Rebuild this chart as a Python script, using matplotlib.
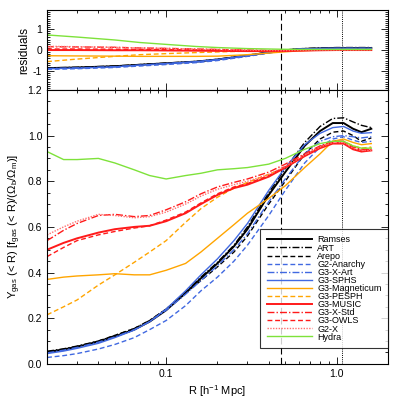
import numpy as np
import matplotlib
matplotlib.use("Agg")
import matplotlib.pyplot as plt
from matplotlib.ticker import MultipleLocator, LogLocator, FixedLocator, FixedFormatter, NullFormatter

plt.rcParams['font.family'] = ['Liberation Sans', 'DejaVu Sans']
plt.rcParams['mathtext.default'] = 'regular'
plt.rcParams['axes.unicode_minus'] = False

# radius grid [h^-1 Mpc]
R = [0.02, 0.025, 0.03, 0.04, 0.05, 0.065, 0.08, 0.1, 0.13, 0.16, 0.2, 0.25,
     0.3, 0.4, 0.5, 0.65, 0.8, 0.95, 1.1, 1.25, 1.4, 1.6]

ramses = [0.052, 0.063, 0.075, 0.097, 0.12, 0.15, 0.185, 0.235, 0.31, 0.375, 0.44, 0.515,
          0.59, 0.74, 0.84, 0.955, 1.02, 1.055, 1.055, 1.03, 1.015, 1.03]
art = [0.055, 0.066, 0.078, 0.10, 0.124, 0.155, 0.19, 0.24, 0.315, 0.38, 0.445, 0.52,
       0.6, 0.75, 0.855, 0.97, 1.04, 1.075, 1.078, 1.06, 1.045, 1.035]
arepo = [0.05, 0.062, 0.075, 0.1, 0.125, 0.155, 0.19, 0.24, 0.31, 0.365, 0.425, 0.49,
         0.56, 0.7, 0.80, 0.92, 0.985, 1.015, 1.02, 1.0, 0.975, 0.99]
anarchy = [0.028, 0.036, 0.045, 0.065, 0.085, 0.115, 0.15, 0.19, 0.255, 0.32, 0.38, 0.45,
           0.52, 0.65, 0.76, 0.88, 0.95, 0.985, 0.995, 0.98, 0.97, 0.975]
xart = [0.048, 0.06, 0.072, 0.095, 0.118, 0.15, 0.185, 0.235, 0.305, 0.365, 0.43, 0.5,
        0.57, 0.71, 0.81, 0.92, 0.975, 0.995, 1.0, 0.995, 0.99, 0.995]
sphs = [0.045, 0.056, 0.068, 0.09, 0.115, 0.148, 0.185, 0.24, 0.32, 0.39, 0.46, 0.54,
        0.615, 0.76, 0.86, 0.96, 1.01, 1.035, 1.04, 1.02, 1.01, 1.013]
magneticum = [0.37, 0.38, 0.385, 0.39, 0.395, 0.39, 0.39, 0.41, 0.44, 0.49, 0.55, 0.61,
              0.66, 0.725, 0.78, 0.86, 0.92, 0.975, 0.985, 0.97, 0.96, 0.965]
pesph = [0.215, 0.25, 0.28, 0.345, 0.39, 0.445, 0.49, 0.54, 0.62, 0.68, 0.73, 0.77,
         0.795, 0.83, 0.86, 0.91, 0.95, 0.975, 0.975, 0.955, 0.945, 0.95]
music = [0.50, 0.53, 0.55, 0.575, 0.59, 0.60, 0.605, 0.625, 0.66, 0.70, 0.74, 0.77,
         0.785, 0.82, 0.86, 0.91, 0.945, 0.965, 0.965, 0.94, 0.93, 0.935]
xstd = [0.54, 0.585, 0.615, 0.65, 0.655, 0.645, 0.65, 0.675, 0.71, 0.745, 0.775, 0.795,
        0.81, 0.84, 0.875, 0.92, 0.955, 0.975, 0.975, 0.95, 0.94, 0.94]
owls = [0.47, 0.51, 0.54, 0.565, 0.58, 0.595, 0.605, 0.63, 0.665, 0.705, 0.745, 0.775,
        0.79, 0.825, 0.865, 0.915, 0.95, 0.97, 0.97, 0.945, 0.935, 0.94]
g2x = [0.565, 0.60, 0.625, 0.655, 0.65, 0.64, 0.645, 0.665, 0.70, 0.735, 0.765, 0.785,
       0.80, 0.83, 0.865, 0.915, 0.95, 0.97, 0.97, 0.945, 0.935, 0.935]
hydra = [0.93, 0.895, 0.895, 0.90, 0.88, 0.85, 0.825, 0.81, 0.825, 0.835, 0.85, 0.855,
         0.86, 0.875, 0.90, 0.94, 0.965, 0.975, 0.975, 0.955, 0.945, 0.945]

# residuals on a coarser grid
R_res = [0.02, 0.03, 0.05, 0.07, 0.1, 0.15, 0.2, 0.3, 0.47, 0.6, 0.8, 1.0, 1.3, 1.6]
res_ramses = [-0.86, -0.83, -0.77, -0.7, -0.63, -0.55, -0.45, -0.26, -0.03, 0.05, 0.08, 0.1, 0.1, 0.1]
res_art = [-0.85, -0.82, -0.76, -0.69, -0.62, -0.54, -0.44, -0.25, -0.02, 0.06, 0.1, 0.12, 0.12, 0.12]
res_arepo = [-0.87, -0.84, -0.78, -0.71, -0.64, -0.56, -0.46, -0.27, -0.04, 0.04, 0.07, 0.08, 0.08, 0.08]
res_anarchy = [-0.92, -0.89, -0.83, -0.76, -0.69, -0.6, -0.5, -0.3, -0.06, 0.02, 0.05, 0.06, 0.06, 0.06]
res_xart = [-0.88, -0.85, -0.79, -0.72, -0.65, -0.57, -0.47, -0.28, -0.04, 0.04, 0.07, 0.08, 0.08, 0.08]
res_sphs = [-0.89, -0.86, -0.8, -0.72, -0.64, -0.55, -0.45, -0.26, -0.03, 0.05, 0.08, 0.09, 0.09, 0.09]
res_magneticum = [-0.27, -0.28, -0.29, -0.3, -0.3, -0.3, -0.29, -0.22, -0.1, -0.04, 0.0, 0.02, 0.02, 0.02]
res_pesph = [-0.55, -0.43, -0.3, -0.22, -0.17, -0.12, -0.09, -0.05, -0.02, 0.0, 0.02, 0.02, 0.02, 0.02]
res_music = [0.0, 0.0, -0.01, -0.01, -0.02, -0.03, -0.04, -0.05, -0.05, -0.03, -0.01, 0.0, 0.0, 0.0]
res_xstd = [0.16, 0.15, 0.13, 0.1, 0.08, 0.05, 0.03, 0.0, -0.03, -0.01, 0.0, 0.0, 0.0, 0.0]
res_owls = [0.05, 0.05, 0.04, 0.03, 0.02, 0.01, 0.0, -0.02, -0.04, -0.02, 0.0, 0.0, 0.0, 0.0]
res_g2x = [0.18, 0.16, 0.13, 0.1, 0.08, 0.05, 0.03, 0.0, -0.03, -0.01, 0.0, 0.0, 0.0, 0.0]
res_hydra = [0.72, 0.62, 0.48, 0.36, 0.27, 0.17, 0.12, 0.07, 0.04, 0.03, 0.03, 0.03, 0.03, 0.03]

names = ["Ramses", "ART", "Arepo", "G2-Anarchy", "G3-X-Art", "G3-SPHS", "G3-Magneticum",
         "G3-PESPH", "G3-MUSIC", "G3-X-Std", "G3-OWLS", "G2-X", "Hydra"]
profiles = [ramses, art, arepo, anarchy, xart, sphs, magneticum, pesph, music, xstd, owls, g2x, hydra]
residuals = [res_ramses, res_art, res_arepo, res_anarchy, res_xart, res_sphs, res_magneticum,
             res_pesph, res_music, res_xstd, res_owls, res_g2x, res_hydra]

blue = '#4169e1'
orange = '#ffa500'
red = '#ff1a1a'
green = '#7ee23a'
dashdot = (0, (5, 1.5, 1, 1.5))
dashed = (0, (3.5, 2))
styles = [('k', '-'), ('k', dashdot), ('k', dashed),
          (blue, dashed), (blue, dashdot), (blue, '-'),
          (orange, '-'), (orange, dashed),
          (red, '-'), (red, dashdot), (red, dashed), ('#ff7070', (0, (1, 1))),
          (green, '-')]

fig = plt.figure(figsize=(3.99, 4.07), dpi=100)
ax_r = fig.add_axes([0.118, 0.779, 0.854, 0.196])
ax = fig.add_axes([0.118, 0.106, 0.854, 0.673])

for a in (ax_r, ax):
    a.set_xscale('log')
    a.set_xlim(0.02, 2.0)
    a.axvline(0.47, color='k', lw=0.8, ls=(0, (6, 3)))
    a.axvline(1.08, color='k', lw=0.7, ls=(0, (1, 1.2)))
    a.tick_params(which='both', direction='in', top=True, right=True, labelsize=7.5, width=0.6)
    a.tick_params(which='major', length=5)
    a.tick_params(which='minor', length=2.5)
    a.xaxis.set_major_locator(FixedLocator([0.1, 1.0]))
    a.xaxis.set_minor_locator(LogLocator(base=10, subs=np.arange(2, 10)))
    a.xaxis.set_minor_formatter(NullFormatter())
    for s in a.spines.values():
        s.set_linewidth(0.8)

for name, y, res, (c, ls) in zip(names, profiles, residuals, styles):
    lw = 1.4 if name in ("Ramses", "G3-MUSIC") else 1.0
    ax.plot(R, y, color=c, ls=ls, lw=lw, label=name)
    ax_r.plot(R_res, res, color=c, ls=ls, lw=lw)

ax_r.set_ylim(-1.9, 1.9)
ax_r.yaxis.set_major_locator(FixedLocator([-1, 0, 1]))
ax_r.yaxis.set_minor_locator(MultipleLocator(0.1))
ax_r.set_xticklabels([])
ax_r.set_ylabel('residuals', fontsize=8.5, labelpad=2)

ax.set_ylim(0, 1.2)
ax.yaxis.set_major_locator(MultipleLocator(0.2))
ax.yaxis.set_minor_locator(MultipleLocator(0.05))
ax.yaxis.set_major_formatter(plt.FormatStrFormatter('%.1f'))
ax.xaxis.set_major_formatter(FixedFormatter(['0.1', '1.0']))
ax.set_xlabel(r'R [h$^{-1}$ Mpc]', fontsize=8, labelpad=3)
ax.set_ylabel(r'$\Upsilon_{gas}$ (< R) [f$_{gas}$ (< R)/($\Omega_{b}/\Omega_{m}$)]', fontsize=8, labelpad=3)

leg = ax.legend(loc='lower right', bbox_to_anchor=(1.0, 0.058), borderaxespad=0, fontsize=6.5,
                handlelength=5.0, labelspacing=-0.1, frameon=True, fancybox=False,
                borderpad=0.7, handletextpad=0.6)
leg.get_frame().set_edgecolor('k')
leg.get_frame().set_linewidth(0.8)

fig.savefig('out.png', dpi=100)
